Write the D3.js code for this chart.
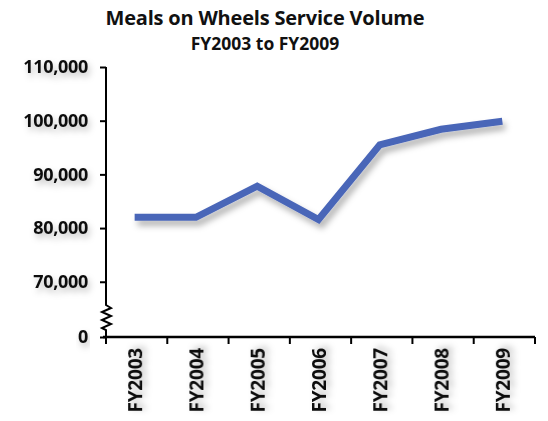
<!DOCTYPE html>
<html><head><meta charset="utf-8">
<script src="https://cdn.jsdelivr.net/npm/d3@7"></script>
<style>body{margin:0;background:#fff}svg{display:block}text{font-family:"Open Sans",sans-serif;font-weight:700;fill:#111}</style>
</head><body>
<script>
const categories = ["FY2003","FY2004","FY2005","FY2006","FY2007","FY2008","FY2009"];
const values = [82000, 82000, 87800, 81600, 95500, 98400, 99900];
const yTicks = [0, 70000, 80000, 90000, 100000, 110000];
const title = "Meals on Wheels Service Volume";
const subtitle = "FY2003 to FY2009";

const W = 548, H = 421;
const svg = d3.select("body").append("svg").attr("width", W).attr("height", H);
const defs = svg.append("defs");
const f = defs.append("filter").attr("id","sh").attr("x","-20%").attr("y","-50%").attr("width","140%").attr("height","200%");
f.append("feDropShadow").attr("dx",3).attr("dy",5).attr("stdDeviation",3).attr("flood-color","#000").attr("flood-opacity",0.3);
const f2 = defs.append("filter").attr("id","sh2").attr("x","-20%").attr("y","-50%").attr("width","140%").attr("height","200%");
f2.append("feDropShadow").attr("dx",2).attr("dy",4).attr("stdDeviation",3).attr("flood-color","#000").attr("flood-opacity",0.25);

const x0 = 106, x1 = 535, yBase = 337;
const x = d3.scaleBand().domain(categories).range([x0, x1]).padding(0);
// broken axis: 0 sits just below the 65,000 break
const y = d3.scaleLinear().domain([0, 65000, 110000]).range([yBase, 308.6, 67]);

svg.append("text").attr("x", 265).attr("y", 25).attr("text-anchor","middle").style("font-size","20px").attr("letter-spacing", -0.2).text(title);
svg.append("text").attr("x", 265).attr("y", 50).attr("text-anchor","middle").style("font-size","17.5px").attr("letter-spacing", 0).text(subtitle);

// Y axis
const yAxis = d3.axisLeft(y).tickValues(yTicks).tickSize(6).tickPadding(12).tickFormat(d3.format(","));
const gy = svg.append("g").attr("transform", `translate(${x0},0)`).call(yAxis);
gy.select(".domain").remove();
gy.selectAll(".tick line").attr("stroke","#000").attr("stroke-width",2);
gy.selectAll(".tick text").style("font-size","18px").attr("letter-spacing", -0.3).attr("fill","#111").attr("filter","url(#sh2)");
// axis line with zigzag break
const zz = [[x0, y(110000)], [x0, 305], [x0+5, 308], [x0-4, 312], [x0+5, 316], [x0-4, 320], [x0+5, 324], [x0-4, 328], [x0, 330], [x0, yBase]];
svg.append("path").attr("d", d3.line()(zz)).attr("fill","none").attr("stroke","#000").attr("stroke-width",2);

// X axis
const gx = svg.append("g").attr("transform", `translate(0,${yBase})`);
gx.append("line").attr("x1", x0-3).attr("x2", x1).attr("stroke","#000").attr("stroke-width",2.5);
const bounds = categories.map(c => x(c)).concat([x1]);
gx.selectAll("line.tk").data(bounds).join("line").attr("class","tk")
  .attr("x1", d=>d).attr("x2", d=>d).attr("y1",0).attr("y2",7).attr("stroke","#000").attr("stroke-width",2);
gx.selectAll("text.lb").data(categories).join("text").attr("class","lb")
  .attr("transform", d => `translate(${x(d)+x.bandwidth()/2+5.5},11) rotate(-90)`)
  .attr("text-anchor","end").style("font-size","19px").attr("letter-spacing",-0.2).attr("filter","url(#sh2)").text(d=>d);

// Line
const line = d3.line().x((d,i)=>x(categories[i])+x.bandwidth()/2 - 2).y(d=>y(d));
svg.append("path").datum(values).attr("d", line).attr("fill","none").attr("stroke","#4a66b8")
  .attr("stroke-width",7).attr("stroke-linejoin","miter").attr("filter","url(#sh)");
</script>
</body></html>
